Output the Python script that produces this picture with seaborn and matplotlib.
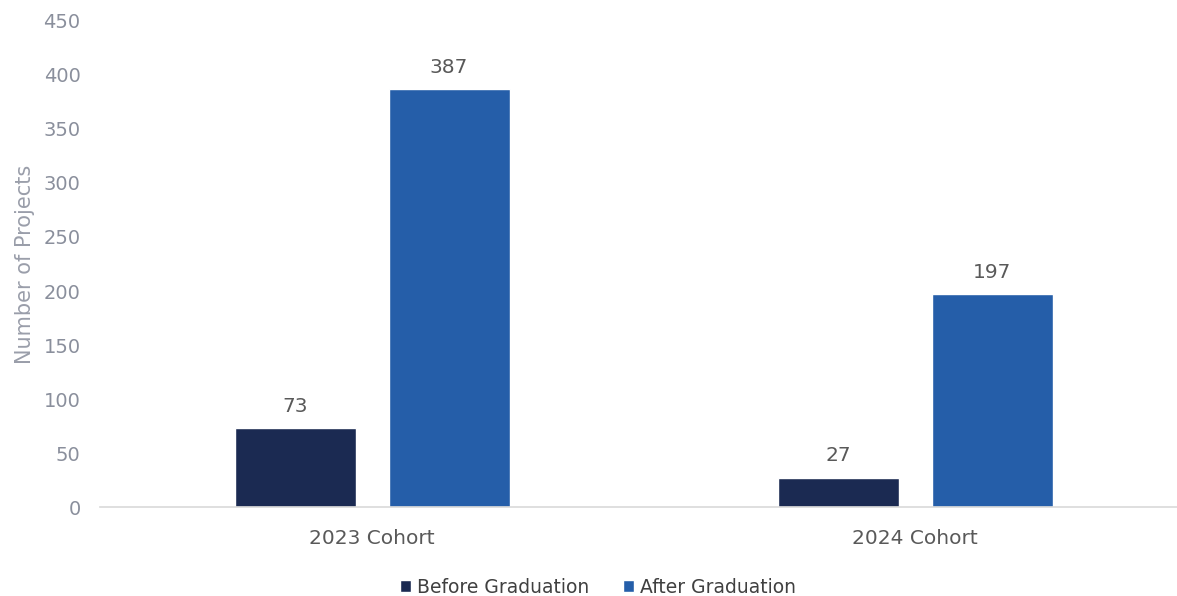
import matplotlib
matplotlib.use("Agg")
import matplotlib.pyplot as plt
import seaborn as sns
import pandas as pd

cohorts = ["2023 Cohort", "2024 Cohort"]
series = ["Before Graduation", "After Graduation"]
before_vals = [73, 27]
after_vals = [387, 197]
colors = ["#1B2A52", "#255EA9"]
yticks = [0, 50, 100, 150, 200, 250, 300, 350, 400, 450]

df = pd.DataFrame({
    "Cohort": cohorts * 2,
    "Period": [series[0]] * 2 + [series[1]] * 2,
    "Projects": before_vals + after_vals,
})

sns.set_theme(style="white")
plt.rcParams["font.family"] = ["DejaVu Sans"]

fig = plt.figure(figsize=(11.77, 5.96), dpi=100)
ax = fig.add_axes([0.085, 0.1493, 0.915, 0.8155])

sns.barplot(data=df, x="Cohort", y="Projects", hue="Period", hue_order=series,
            palette=colors, width=0.567, gap=0.215, ax=ax, legend=True,
            saturation=1)

for cont in ax.containers:
    ax.bar_label(cont, padding=9, fontsize=14.5, color="#595959")

ax.set_ylim(0, 450)
ax.set_yticks(yticks)
ax.set_xlim(-0.501, 1.482)
ax.tick_params(axis="both", length=0, labelsize=14, colors="#8A8F9C")
ax.tick_params(axis="x", labelsize=14.5, colors="#595959", pad=16)
ax.tick_params(axis="y", pad=14)
ax.set_xlabel("")
ax.set_ylabel("Number of Projects", fontsize=15, color="#9A9EAA", labelpad=6)
for s in ["top", "right", "left"]:
    ax.spines[s].set_visible(False)
ax.spines["bottom"].set_color("#D9D9D9")
ax.spines["bottom"].set_linewidth(1.2)

handles, labels = ax.get_legend_handles_labels()
ax.get_legend().remove()
fig.legend(handles, labels, loc="center", bbox_to_anchor=(0.508, 0.015),
           ncol=2, frameon=False, fontsize=13.5, handlelength=0.6, handleheight=0.6,
           handletextpad=0.3, columnspacing=1.8, labelcolor="#404040")

fig.savefig("out.png", dpi=100)
